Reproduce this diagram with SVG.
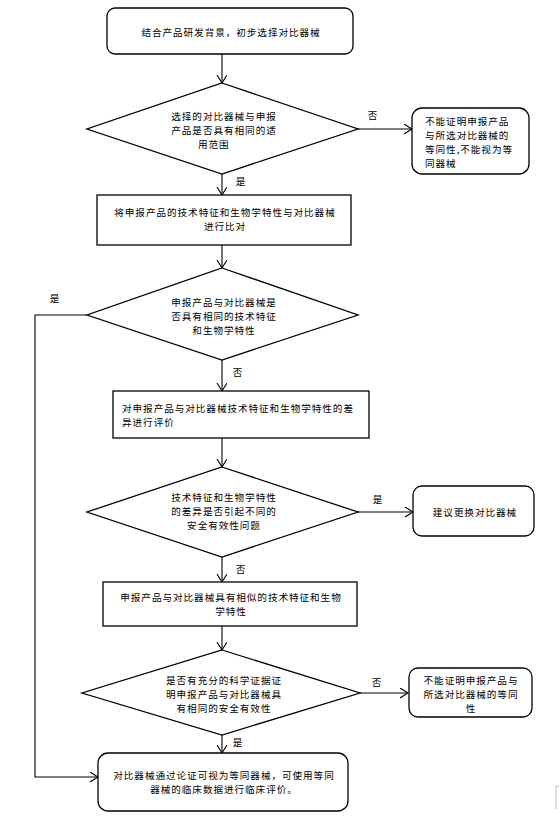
<svg xmlns="http://www.w3.org/2000/svg" width="560" height="819" viewBox="0 0 560 819">
<style>
.box{fill:#fff;stroke:#000;stroke-width:1.3}
.t{font-family:"Noto Sans CJK SC","Noto Sans",sans-serif;font-size:9.6px;letter-spacing:0.95px;fill:#000}
.c{text-anchor:middle}
.con{fill:none;stroke:#000;stroke-width:1.1}
</style>
<defs>
<marker id="ah" markerUnits="userSpaceOnUse" markerWidth="12" markerHeight="12" refX="8" refY="5" orient="auto">
<path d="M0,0 L8,5 L0,10" fill="none" stroke="#000" stroke-width="1.1"/>
</marker>
</defs>
<rect width="560" height="819" fill="#fff"/>
<g id="connectors">
<path class="con" d="M222,54 V83" marker-end="url(#ah)"/>
<path class="con" d="M358,129 H412" marker-end="url(#ah)"/>
<path class="con" d="M222,174 V195" marker-end="url(#ah)"/>
<path class="con" d="M222,245 V268" marker-end="url(#ah)"/>
<path class="con" d="M87,315 H35 V777 H98" marker-end="url(#ah)"/>
<path class="con" d="M222,360 V391" marker-end="url(#ah)"/>
<path class="con" d="M222,438 V467" marker-end="url(#ah)"/>
<path class="con" d="M358,512 H413" marker-end="url(#ah)"/>
<path class="con" d="M222,557 V582" marker-end="url(#ah)"/>
<path class="con" d="M222,626 V650" marker-end="url(#ah)"/>
<path class="con" d="M360,693 H408" marker-end="url(#ah)"/>
<path class="con" d="M222,735 V753" marker-end="url(#ah)"/>
<text class="t c" x="373" y="119">否</text>
<text class="t c" x="241" y="185">是</text>
<text class="t c" x="55" y="302">是</text>
<text class="t c" x="238" y="376">否</text>
<text class="t c" x="378" y="503">是</text>
<text class="t c" x="241" y="573">否</text>
<text class="t c" x="377" y="686">否</text>
<text class="t c" x="238" y="746">是</text>
</g>
<g id="n1">
<rect class="box" x="107" y="8" width="246" height="46" rx="8"/>
<text class="t c" x="231" y="36">结合产品研发背景，初步选择对比器械</text>
</g>
<g id="d1">
<polygon class="box" points="222,83 358,129 222,174 87,129"/>
<text class="t c" x="224" y="120">选择的对比器械与申报</text>
<text class="t c" x="224" y="134">产品是否具有相同的适</text>
<text class="t" x="198" y="148">用范围</text>
</g>
<g id="n_no1">
<rect class="box" x="412" y="108" width="117" height="66" rx="10"/>
<text class="t" x="425" y="125">不能证明申报产品</text>
<text class="t" x="425" y="139">与所选对比器械的</text>
<text class="t" x="425" y="153">等同性,不能视为等</text>
<text class="t" x="425" y="167">同器械</text>
</g>
<g id="n2">
<rect class="box" x="97" y="195" width="254" height="50"/>
<text class="t c" x="225" y="216">将申报产品的技术特征和生物学特性与对比器械</text>
<text class="t c" x="225" y="230">进行比对</text>
</g>
<g id="d2">
<polygon class="box" points="222,268 358,315 222,360 87,315"/>
<text class="t c" x="224" y="306">申报产品与对比器械是</text>
<text class="t c" x="224" y="320">否具有相同的技术特征</text>
<text class="t c" x="224" y="334">和生物学特性</text>
</g>
<g id="n3">
<rect class="box" x="113" y="391" width="256" height="47"/>
<text class="t" x="122" y="412">对申报产品与对比器械技术特征和生物学特性的差</text>
<text class="t" x="122" y="426">异进行评价</text>
</g>
<g id="d3">
<polygon class="box" points="222,467 358,512 222,557 87,512"/>
<text class="t c" x="224" y="501">技术特征和生物学特性</text>
<text class="t c" x="224" y="515">的差异是否引起不同的</text>
<text class="t c" x="224" y="529">安全有效性问题</text>
</g>
<g id="n_yes3">
<rect class="box" x="413" y="486" width="121" height="50" rx="9"/>
<text class="t c" x="475" y="516">建议更换对比器械</text>
</g>
<g id="n4">
<rect class="box" x="103" y="582" width="254" height="44"/>
<text class="t c" x="231" y="601">申报产品与对比器械具有相似的技术特征和生物</text>
<text class="t c" x="231" y="615">学特性</text>
</g>
<g id="d4">
<polygon class="box" points="222,650 360,693 222,735 82,693"/>
<text class="t c" x="224" y="684">是否有充分的科学证据证</text>
<text class="t c" x="224" y="698">明申报产品与对比器械具</text>
<text class="t c" x="224" y="712">有相同的安全有效性</text>
</g>
<g id="n_no4">
<rect class="box" x="409" y="668" width="123" height="49" rx="9"/>
<text class="t c" x="471" y="684">不能证明申报产品与</text>
<text class="t c" x="471" y="698">所选对比器械的等同</text>
<text class="t c" x="471" y="712">性</text>
</g>
<g id="n_final">
<rect class="box" x="98" y="753" width="250" height="58" rx="10"/>
<text class="t c" x="224" y="779">对比器械通过论证可视为等同器械，可使用等同</text>
<text class="t c" x="224" y="793">器械的临床数据进行临床评价。</text>
</g>
<path d="M559,786 H556 V809" fill="none" stroke="#bbb" stroke-width="1"/>
</svg>
